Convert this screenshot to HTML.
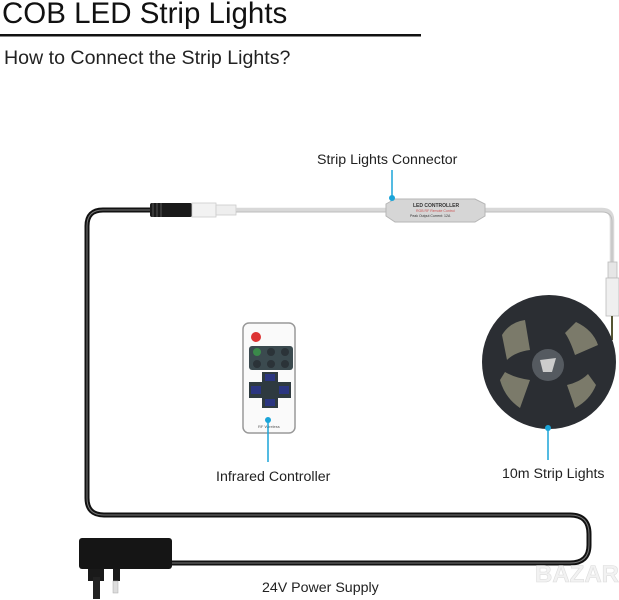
<!DOCTYPE html>
<html><head><meta charset="utf-8"><style>
html,body{margin:0;padding:0;background:#fff;width:619px;height:600px;overflow:hidden}
svg{display:block}
text{font-family:"Liberation Sans",Arial,sans-serif}
</style></head><body>
<svg width="619" height="600" viewBox="0 0 619 600" xmlns="http://www.w3.org/2000/svg">
<text x="2" y="23" font-size="29.5" fill="#111">COB LED Strip Lights</text>
<rect x="0" y="34" width="421" height="2.5" fill="#111"/>
<text x="4" y="64" font-size="19.6" fill="#222">How to Connect the Strip Lights?</text>

<path d="M150 210 H103 Q87 210 87 226 V498 Q87 515 104 515 H570 Q589 515 589 534 V545 Q589 563 570 563 H172" fill="none" stroke="#111" stroke-width="5"/>
<path d="M150 210 H103 Q87 210 87 226 V498 Q87 515 104 515 H570 Q589 515 589 534 V545 Q589 563 570 563 H172" fill="none" stroke="#777" stroke-width="1"/>
<rect x="150" y="203" width="42" height="14" rx="2" fill="#1a1a1a"/>
<g stroke="#555" stroke-width="1"><line x1="153" y1="203" x2="153" y2="217"/><line x1="157" y1="203" x2="157" y2="217"/><line x1="161" y1="203" x2="161" y2="217"/></g>
<rect x="192" y="203" width="24" height="14" fill="#f2f2f2" stroke="#ccc" stroke-width="0.8"/>
<rect x="216" y="205" width="20" height="10" fill="#eee" stroke="#ccc" stroke-width="0.8"/>
<path d="M236 210 H386 M484 210 H602 Q612 210 612 220 V264" fill="none" stroke="#d8d8d8" stroke-width="4.5"/>
<path d="M236 210 H386 M484 210 H602 Q612 210 612 220 V264" fill="none" stroke="#bdbdbd" stroke-width="1" transform="translate(0,2)"/>
<path d="M386 204 L395 199 H475 L485 204 V216 L475 222 H395 L386 216 Z" fill="#d6d6d6" stroke="#b5b5b5"/>
<text x="413" y="207" font-size="5" font-weight="bold" fill="#333">LED CONTROLLER</text>
<text x="416" y="212" font-size="3.5" fill="#c55">RGB RF Remote Control</text>
<text x="410" y="217" font-size="3.5" fill="#333">Peak Output Current: 12A</text>
<rect x="608" y="262" width="9" height="16" fill="#e6e6e6" stroke="#bbb" stroke-width="0.8"/>
<rect x="606" y="278" width="13" height="38" fill="#efefef" stroke="#bbb" stroke-width="0.8"/>
<path d="M612 316 V340" stroke="#553" stroke-width="2"/>

<circle cx="549" cy="362" r="67" fill="#2b2e33"/>
<g fill="#8f8e78" opacity="0.8">
<path d="M502 335 Q510 322 525 320 L530 350 Q515 352 507 360 Z"/>
<path d="M576 322 Q593 330 598 345 L575 355 Q570 340 565 333 Z"/>
<path d="M500 380 Q505 398 520 408 L530 380 Q515 378 505 372 Z"/>
<path d="M596 385 Q590 400 575 408 L567 385 Q580 382 588 374 Z"/>
</g>
<circle cx="548" cy="365" r="16" fill="#555a60"/>
<path d="M540 360 L556 358 L552 372 L543 372 Z" fill="#ccc"/>

<rect x="243" y="323" width="52" height="110" rx="6" fill="#fafafa" stroke="#999" stroke-width="1.5"/>
<circle cx="256" cy="337" r="5" fill="#d33"/>
<rect x="249" y="346" width="44" height="24" rx="3" fill="#3b4a4f"/>
<g fill="#2b3338"><circle cx="257" cy="352" r="4" fill="#3a8a4a"/><circle cx="271" cy="352" r="4"/><circle cx="285" cy="352" r="4"/><circle cx="257" cy="364" r="4"/><circle cx="271" cy="364" r="4"/><circle cx="285" cy="364" r="4"/></g>
<path d="M262 372 H278 V382 H291 V398 H278 V408 H262 V398 H249 V382 H262 Z" fill="#2e3a40"/>
<g fill="#2a3580"><rect x="265" y="374" width="10" height="7"/><rect x="251" y="386" width="10" height="8"/><rect x="279" y="386" width="10" height="8"/><rect x="265" y="399" width="10" height="7"/></g>
<text x="258" y="428" font-size="4" fill="#555">RF Wireless</text>

<rect x="79" y="538" width="93" height="31" rx="3" fill="#151515"/>
<rect x="88" y="569" width="16" height="12" fill="#1a1a1a"/>
<rect x="93" y="577" width="7" height="22" fill="#222"/>
<rect x="113" y="569" width="7" height="12" fill="#1a1a1a"/>
<rect x="113" y="581" width="5" height="12" fill="#ddd" stroke="#aaa" stroke-width="0.5"/>

<g stroke="#1aa4d8" stroke-width="1.5"><line x1="392" y1="170" x2="392" y2="197"/><line x1="268" y1="420" x2="268" y2="462"/><line x1="548" y1="428" x2="548" y2="460"/></g>
<g fill="#1aa4d8"><circle cx="392" cy="198" r="3"/><circle cx="268" cy="420" r="3"/><circle cx="548" cy="428" r="3"/></g>
<text x="317" y="164" font-size="14.2" fill="#222">Strip Lights Connector</text>
<text x="216" y="481" font-size="14.2" fill="#222">Infrared Controller</text>
<text x="502" y="478" font-size="14.2" fill="#222">10m Strip Lights</text>
<text x="262" y="592" font-size="14.2" fill="#222">24V Power Supply</text>
<text x="535" y="582" font-size="24" font-weight="bold" fill="#f2f2f2" stroke="#ddd" stroke-width="0.6">BAZAR</text>
</svg>
</body></html>
